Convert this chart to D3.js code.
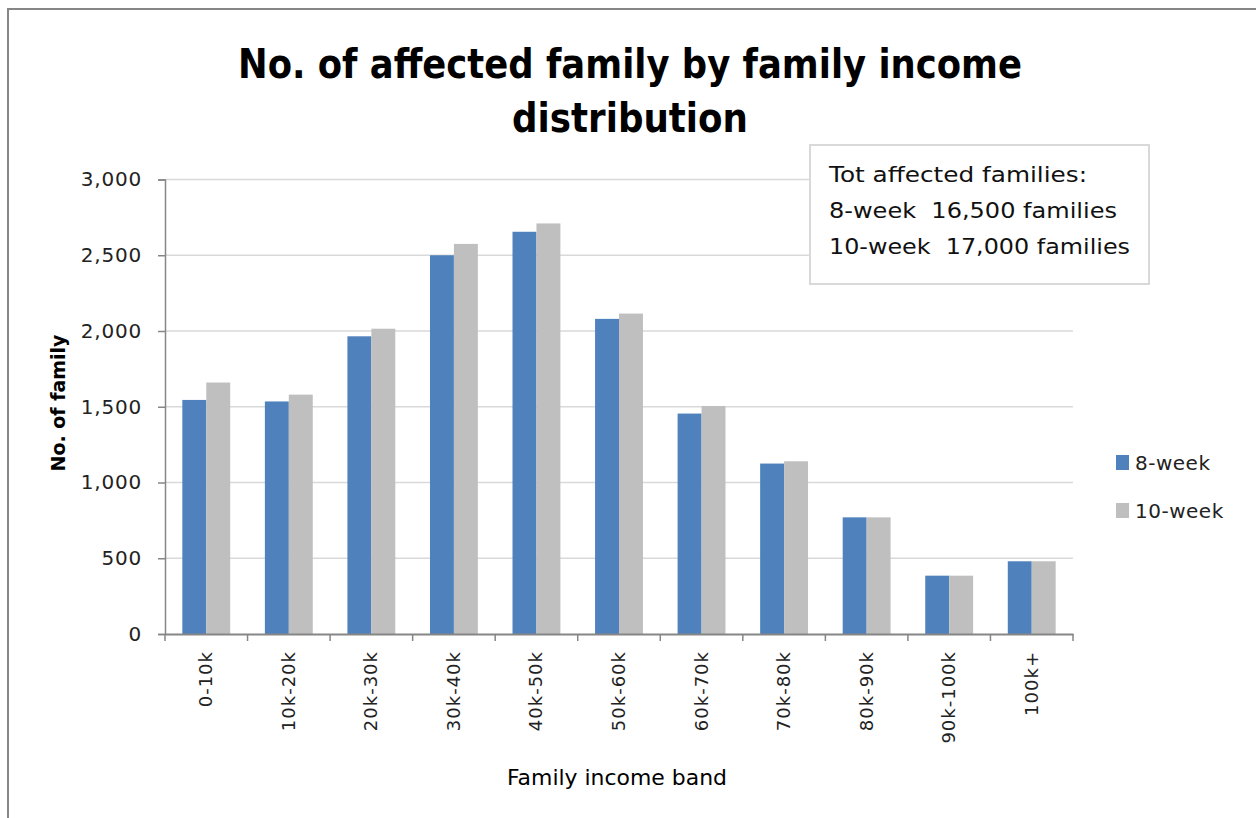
<!DOCTYPE html>
<html>
<head>
<meta charset="utf-8">
<script src="https://cdn.jsdelivr.net/npm/d3@7"></script>
<style>
  body { margin: 0; background: #fff; }
  svg text { font-family: "DejaVu Sans", "Open Sans", sans-serif; }
</style>
</head>
<body>
<svg id="chart" width="1256" height="818"></svg>
<script>
const categories = ['0-10k', '10k-20k', '20k-30k', '30k-40k', '40k-50k', '50k-60k', '60k-70k', '70k-80k', '80k-90k', '90k-100k', '100k+']
const weeks8 = [1545, 1535, 1965, 2500, 2655, 2080, 1455, 1125, 770, 385, 480]
const weeks10 = [1660, 1580, 2015, 2575, 2710, 2115, 1505, 1140, 770, 385, 480]
const seriesNames = ['8-week', '10-week']
const seriesColors = ['#4f81bd', '#bfbfbf']
const yTicks = [0, 500, 1000, 1500, 2000, 2500, 3000]
const titleLines = ['No. of affected family by family income', 'distribution']
const noteLines = ['Tot affected families:', '8-week  16,500 families', '10-week  17,000 families']

const svg = d3.select('#chart')
const plot = { left: 165, right: 1073, top: 179.5, bottom: 634 }

// outer frame (top and left edges only are visible)
svg.append('path')
  .attr('d', 'M8,818 V9 H1256')
  .attr('fill', 'none')
  .attr('stroke', '#868686')
  .attr('stroke-width', 2)

const x = d3.scaleBand()
  .domain(categories)
  .range([plot.left, plot.right])
  .paddingInner(0.42)
  .paddingOuter(0.21)

const xs = d3.scaleBand()
  .domain(seriesNames)
  .range([0, x.bandwidth()])

const y = d3.scaleLinear()
  .domain([0, 3000])
  .range([plot.bottom, plot.top])

// gridlines
svg.append('g')
  .selectAll('line')
  .data(yTicks.slice(1))
  .join('line')
  .attr('x1', plot.left)
  .attr('x2', plot.right)
  .attr('y1', d => y(d))
  .attr('y2', d => y(d))
  .attr('stroke', '#d9d9d9')
  .attr('stroke-width', 1.5)

// bars
const rows = categories.map((c, i) => ({ cat: c, values: [weeks8[i], weeks10[i]] }))
svg.append('g')
  .selectAll('g')
  .data(rows)
  .join('g')
  .attr('transform', d => `translate(${x(d.cat)},0)`)
  .selectAll('rect')
  .data(d => d.values.map((v, j) => ({ name: seriesNames[j], value: v, color: seriesColors[j] })))
  .join('rect')
  .attr('x', d => xs(d.name))
  .attr('width', xs.bandwidth())
  .attr('y', d => y(d.value))
  .attr('height', d => y(0) - y(d.value))
  .attr('fill', d => d.color)

// y axis
const yAxis = svg.append('g')
  .attr('transform', `translate(${plot.left},0)`)
  .call(d3.axisLeft(y).tickValues(yTicks).tickSize(7).tickPadding(16).tickFormat(d3.format(',')))
yAxis.select('.domain').attr('stroke', '#868686').attr('stroke-width', 1.5)
yAxis.selectAll('.tick line').attr('stroke', '#868686').attr('stroke-width', 1.5)
yAxis.selectAll('.tick text')
  .attr('font-size', 20)
  .attr('letter-spacing', 0.8)
  .attr('fill', '#222')

// x axis
const xAxis = svg.append('g')
  .attr('transform', `translate(0,${plot.bottom})`)
  .call(d3.axisBottom(x).tickSize(0).tickFormat(''))
xAxis.select('.domain').attr('stroke', '#868686').attr('stroke-width', 2)
xAxis.selectAll('.tick').remove()

const boundaries = d3.range(categories.length + 1).map(i => plot.left + i * (plot.right - plot.left) / categories.length)
xAxis.append('g')
  .selectAll('line')
  .data(boundaries)
  .join('line')
  .attr('x1', d => d)
  .attr('x2', d => d)
  .attr('y1', 0)
  .attr('y2', 7)
  .attr('stroke', '#868686')
  .attr('stroke-width', 1.5)

xAxis.append('g')
  .selectAll('text')
  .data(categories)
  .join('text')
  .attr('transform', d => `translate(${x(d) + x.bandwidth() / 2 + 6},17) rotate(-90)`)
  .attr('text-anchor', 'end')
  .attr('font-size', 18)
  .attr('letter-spacing', 1)
  .attr('fill', '#222')
  .text(d => d)

// title
const titleWidths = [784, 236]
svg.append('g')
  .selectAll('text')
  .data(titleLines)
  .join('text')
  .attr('x', 630)
  .attr('y', (d, i) => 78 + i * 54)
  .attr('text-anchor', 'middle')
  .attr('font-size', 40)
  .attr('font-weight', 'bold')
  .attr('textLength', (d, i) => titleWidths[i])
  .attr('lengthAdjust', 'spacingAndGlyphs')
  .attr('fill', '#000')
  .text(d => d)

// axis titles
svg.append('text')
  .attr('transform', 'translate(65,403) rotate(-90)')
  .attr('text-anchor', 'middle')
  .attr('font-size', 19)
  .attr('font-weight', 'bold')
  .text('No. of family')

svg.append('text')
  .attr('x', 617)
  .attr('y', 785)
  .attr('text-anchor', 'middle')
  .attr('font-size', 21)
  .attr('textLength', 220)
  .attr('lengthAdjust', 'spacingAndGlyphs')
  .text('Family income band')

// annotation box
svg.append('rect')
  .attr('x', 810)
  .attr('y', 145)
  .attr('width', 339)
  .attr('height', 139)
  .attr('fill', '#fff')
  .attr('stroke', '#d9d9d9')
  .attr('stroke-width', 2)

const noteWidths = [258, 288, 301]
svg.append('g')
  .selectAll('text')
  .data(noteLines)
  .join('text')
  .attr('x', 829)
  .attr('y', (d, i) => 182 + i * 36)
  .attr('font-size', 22)
  .attr('fill', '#111')
  .attr('xml:space', 'preserve')
  .attr('textLength', (d, i) => noteWidths[i])
  .attr('lengthAdjust', 'spacingAndGlyphs')
  .text(d => d)

// legend
const legend = svg.append('g')
  .selectAll('g')
  .data(seriesNames)
  .join('g')
  .attr('transform', (d, i) => `translate(1116,${455 + i * 48})`)
legend.append('rect')
  .attr('width', 13)
  .attr('height', 15)
  .attr('fill', (d, i) => seriesColors[i])
legend.append('text')
  .attr('x', 19)
  .attr('y', 15)
  .attr('font-size', 20)
  .attr('letter-spacing', 0.5)
  .attr('fill', '#222')
  .text(d => d)
</script>
</body>
</html>
